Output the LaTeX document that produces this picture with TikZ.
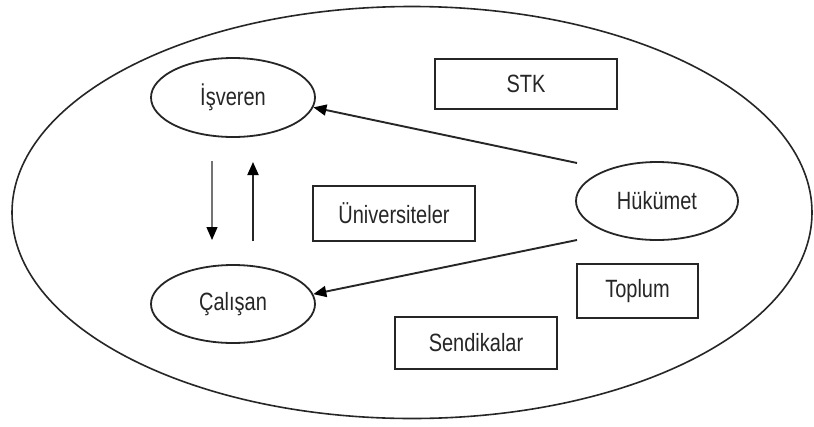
\documentclass[tikz,border=0pt]{standalone}
\usepackage{fontspec}
\setmainfont{Liberation Sans}
\usetikzlibrary{arrows.meta,shapes.geometric}
\newcommand{\lbl}[1]{\scalebox{0.8}[1]{#1}}
\begin{document}
\begin{tikzpicture}[x=1pt,y=-1pt,
  lab/.style={text=black!85, font=\fontsize{25}{30}\selectfont},
  oval/.style={lab, draw=black!85, ellipse, line width=1.8pt, inner sep=0pt, minimum width=164pt, minimum height=79pt},
  box/.style={lab, draw=black!85, rectangle, line width=1.8pt, inner sep=0pt},
  arr/.style={line width=1.9pt, draw=black!85, -{Triangle[length=13pt,width=11pt,color=black]}},
  garr/.style={line width=1.3pt, draw=black!55, -{Triangle[length=13pt,width=11pt,color=black]}}]
\useasboundingbox (0,0) rectangle (814,426);
\fill[white] (0,0) rectangle (814,426);
% outer ellipse
\draw[line width=1.6pt, draw=black!85] (412,212.5) ellipse [x radius=400, y radius=206];
% nodes
\node[oval] (isv) at (233,97.5) {\lbl{İşveren}};
\node[oval, minimum height=78pt] (cal) at (233,304) {\lbl{Çalışan}};
\node[oval, minimum width=162pt, minimum height=78pt] (huk) at (657,201) {\lbl{Hükümet}};
\node[box, minimum width=182pt, minimum height=50pt] (stk) at (526,84) {\lbl{STK}};
\node[box, minimum width=162pt, minimum height=55pt] (uni) at (394,213.5) {\lbl{Üniversiteler}};
\node[box, minimum width=121pt, minimum height=54pt] (top) at (637.5,291) {\lbl{Toplum}};
\node[box, minimum width=162pt, minimum height=52pt] (sen) at (476,343) {\lbl{Sendikalar}};
% connector end points
\coordinate (h1) at (577,163);
\coordinate (h2) at (577,240);
\coordinate (d1) at (212,161);
\coordinate (d2) at (212,240);
\coordinate (u1) at (253,241);
\coordinate (u2) at (253,162);
% connectors
\draw[arr] (h1) -- (isv.-7);
\draw[arr] (h2) -- (cal.7);
\draw[garr] (d1) -- (d2);
\draw[arr] (u1) -- (u2);
\end{tikzpicture}
\end{document}
